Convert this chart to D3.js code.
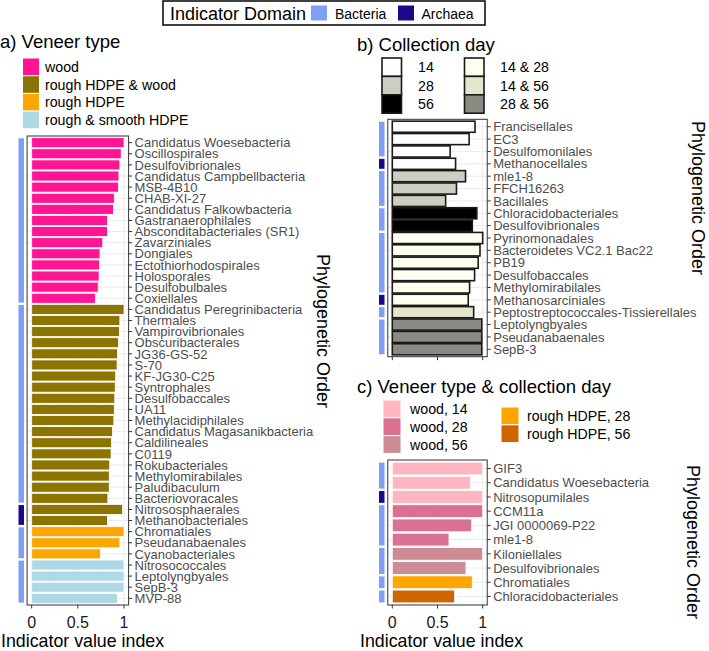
<!DOCTYPE html>
<html>
<head>
<meta charset="utf-8">
<script src="https://cdn.jsdelivr.net/npm/d3@7"></script>
<style>
  body { margin: 0; background: #fff; }
  svg { font-family: 'Liberation Sans', Arial, sans-serif; }
</style>
</head>
<body>
<svg id="chart" width="709" height="651"></svg>
<script>
// domains
const domainNames = ['Bacteria', 'Archaea'];
const domainColors = ['#7f9ff5', '#1a0a8a'];

// panel a: veneer type
const veneerTypes = ['wood', 'rough HDPE & wood', 'rough HDPE', 'rough & smooth HDPE'];
const veneerColors = ['#ff1493', '#8b7500', '#ffa500', '#add8e6'];
const ordersA = [
  'Candidatus Woesebacteria', 'Oscillospirales', 'Desulfovibrionales', 'Candidatus Campbellbacteria',
  'MSB-4B10', 'CHAB-XI-27', 'Candidatus Falkowbacteria', 'Gastranaerophilales',
  'Absconditabacteriales (SR1)', 'Zavarziniales', 'Dongiales', 'Ectothiorhodospirales',
  'Holosporales', 'Desulfobulbales', 'Coxiellales',
  'Candidatus Peregrinibacteria', 'Thermales', 'Vampirovibrionales', 'Obscuribacterales',
  'JG36-GS-52', 'S-70', 'KF-JG30-C25', 'Syntrophales', 'Desulfobaccales', 'UA11',
  'Methylacidiphilales', 'Candidatus Magasanikbacteria', 'Caldilineales', 'C0119',
  'Rokubacteriales', 'Methylomirabilales', 'Paludibaculum', 'Bacteriovoracales',
  'Nitrososphaerales', 'Methanobacteriales',
  'Chromatiales', 'Pseudanabaenales', 'Cyanobacteriales',
  'Nitrosococcales', 'Leptolyngbyales', 'SepB-3', 'MVP-88'
];
const valuesA = [
  1.0, 0.97, 0.955, 0.945, 0.94, 0.895, 0.885, 0.82, 0.82, 0.77, 0.74, 0.735, 0.73, 0.72, 0.69,
  1.0, 0.955, 0.95, 0.94, 0.93, 0.925, 0.91, 0.905, 0.9, 0.895, 0.89, 0.875, 0.865, 0.86,
  0.845, 0.84, 0.84, 0.825, 0.985, 0.82,
  1.0, 0.955, 0.745,
  1.0, 1.0, 1.0, 0.93
];
const groupA = [
  'wood', 'wood', 'wood', 'wood', 'wood', 'wood', 'wood', 'wood', 'wood', 'wood', 'wood', 'wood', 'wood', 'wood', 'wood',
  'rough HDPE & wood', 'rough HDPE & wood', 'rough HDPE & wood', 'rough HDPE & wood', 'rough HDPE & wood',
  'rough HDPE & wood', 'rough HDPE & wood', 'rough HDPE & wood', 'rough HDPE & wood', 'rough HDPE & wood',
  'rough HDPE & wood', 'rough HDPE & wood', 'rough HDPE & wood', 'rough HDPE & wood', 'rough HDPE & wood',
  'rough HDPE & wood', 'rough HDPE & wood', 'rough HDPE & wood', 'rough HDPE & wood', 'rough HDPE & wood',
  'rough HDPE', 'rough HDPE', 'rough HDPE',
  'rough & smooth HDPE', 'rough & smooth HDPE', 'rough & smooth HDPE', 'rough & smooth HDPE'
];
const domainA = ordersA.map(d => (d === 'Nitrososphaerales' || d === 'Methanobacteriales') ? 'Archaea' : 'Bacteria');

// panel b: collection day
const days = ['14', '28', '56', '14 & 28', '14 & 56', '28 & 56'];
const dayColors = ['#ffffff', '#cdcdc1', '#000000', '#fffff0', '#e6e6cb', '#8b8b83'];
const ordersB = [
  'Francisellales', 'EC3', 'Desulfomonilales', 'Methanocellales',
  'mle1-8', 'FFCH16263', 'Bacillales',
  'Chloracidobacteriales', 'Desulfovibrionales',
  'Pyrinomonadales', 'Bacteroidetes VC2.1 Bac22', 'PB19', 'Desulfobaccales', 'Methylomirabilales', 'Methanosarciniales',
  'Peptostreptococcales-Tissierellales',
  'Leptolyngbyales', 'Pseudanabaenales', 'SepB-3'
];
const valuesB = [
  0.915, 0.85, 0.64, 0.70,
  0.81, 0.71, 0.59,
  0.935, 0.885,
  1.0, 0.97, 0.95, 0.91, 0.855, 0.84,
  0.90,
  0.99, 0.99, 0.99
];
const groupB = [
  '14', '14', '14', '14', '28', '28', '28', '56', '56',
  '14 & 28', '14 & 28', '14 & 28', '14 & 28', '14 & 28', '14 & 28',
  '14 & 56', '28 & 56', '28 & 56', '28 & 56'
];
const domainB = ordersB.map(d => (d === 'Methanocellales' || d === 'Methanosarciniales') ? 'Archaea' : 'Bacteria');

// panel c: veneer type & collection day
const combos = ['wood, 14', 'wood, 28', 'wood, 56', 'rough HDPE, 28', 'rough HDPE, 56'];
const comboColors = ['#ffb6c1', '#db7093', '#cd8c95', '#ffa500', '#cd6600'];
const ordersC = [
  'GIF3', 'Candidatus Woesebacteria', 'Nitrosopumilales',
  'CCM11a', 'JGI 0000069-P22', 'mle1-8',
  'Kiloniellales', 'Desulfovibrionales',
  'Chromatiales', 'Chloracidobacteriales'
];
const valuesC = [1.0, 0.867, 1.0, 1.0, 0.878, 0.627, 1.0, 0.815, 0.885, 0.69];
const groupC = [
  'wood, 14', 'wood, 14', 'wood, 14', 'wood, 28', 'wood, 28', 'wood, 28',
  'wood, 56', 'wood, 56', 'rough HDPE, 28', 'rough HDPE, 56'
];
const domainC = ordersC.map(d => d === 'Nitrosopumilales' ? 'Archaea' : 'Bacteria');

const xTicks = [0, 0.5, 1];
const xTickLabels = ['0', '0.5', '1'];

const svg = d3.select('#chart');
const domainColor = d3.scaleOrdinal(domainNames, domainColors);

// top legend
const topLegend = svg.append('g');
topLegend.append('rect').attr('x', 163).attr('y', 1).attr('width', 322).attr('height', 24)
  .attr('fill', '#fff').attr('stroke', '#000').attr('stroke-width', 1.5);
topLegend.append('text').attr('x', 170).attr('y', 19.5).attr('font-size', 18).text('Indicator Domain');
const topKeys = [[311, 335], [398, 421.5]];
domainNames.forEach((d, i) => {
  topLegend.append('rect').attr('x', topKeys[i][0]).attr('y', 5.5).attr('width', 16).attr('height', 15)
    .attr('fill', domainColor(d));
  topLegend.append('text').attr('x', topKeys[i][1]).attr('y', 18.5).attr('font-size', 14).text(d);
});

function drawPanel(cfg) {
  const g = svg.append('g');
  const x = d3.scaleLinear().domain([0, 1]).range(cfg.xRange);
  const y = d3.scalePoint().domain(d3.range(cfg.orders.length)).range([cfg.top, cfg.bottom]).padding(0.6);
  const step = y.step();
  const fill = d3.scaleOrdinal(cfg.groups, cfg.colors);
  const left = cfg.xRange[0] - 0.05 * (cfg.xRange[1] - cfg.xRange[0]);
  const right = cfg.xRange[1] + 0.05 * (cfg.xRange[1] - cfg.xRange[0]);

  // grid
  const minor = [0.25, 0.75];
  g.selectAll('.gminor').data(minor).join('line')
    .attr('x1', d => x(d)).attr('x2', d => x(d)).attr('y1', cfg.top).attr('y2', cfg.bottom)
    .attr('stroke', '#f2f2f2').attr('stroke-width', 0.6);
  g.selectAll('.gmajor').data(xTicks).join('line')
    .attr('x1', d => x(d)).attr('x2', d => x(d)).attr('y1', cfg.top).attr('y2', cfg.bottom)
    .attr('stroke', '#ebebeb').attr('stroke-width', 1);
  g.selectAll('.gy').data(cfg.orders).join('line')
    .attr('x1', left).attr('x2', right).attr('y1', (d, i) => y(i)).attr('y2', (d, i) => y(i))
    .attr('stroke', '#ebebeb').attr('stroke-width', 1);

  // bars
  g.selectAll('.bar').data(cfg.values).join('rect')
    .attr('x', x(0))
    .attr('y', (d, i) => y(i) - 0.45 * step)
    .attr('width', d => x(d) - x(0))
    .attr('height', 0.9 * step)
    .attr('fill', (d, i) => fill(cfg.groupOf[i]))
    .attr('stroke', cfg.barStroke)
    .attr('stroke-width', cfg.barStrokeWidth);

  // panel border
  g.append('rect').attr('x', left).attr('y', cfg.top).attr('width', right - left)
    .attr('height', cfg.bottom - cfg.top).attr('fill', 'none').attr('stroke', '#333').attr('stroke-width', 1);

  // domain strips, one per run of same group and domain
  const runs = [];
  cfg.orders.forEach((d, i) => {
    const key = cfg.groupOf[i] + '|' + cfg.domainOf[i];
    const last = runs[runs.length - 1];
    if (last && last.key === key) last.end = i;
    else runs.push({ key, start: i, end: i, domain: cfg.domainOf[i] });
  });
  g.selectAll('.strip').data(runs).join('rect')
    .attr('x', cfg.stripX).attr('width', 5.5)
    .attr('y', d => y(d.start) - step / 2 + 1.2)
    .attr('height', d => (d.end - d.start + 1) * step - 2.4)
    .attr('fill', d => domainColor(d.domain));

  // y axis on the right
  const yAxis = g.append('g');
  yAxis.selectAll('line').data(cfg.orders).join('line')
    .attr('x1', right).attr('x2', right + 3.5).attr('y1', (d, i) => y(i)).attr('y2', (d, i) => y(i))
    .attr('stroke', '#333').attr('stroke-width', 1);
  yAxis.selectAll('text').data(cfg.orders).join('text')
    .attr('x', right + 6).attr('y', (d, i) => y(i)).attr('dy', '0.36em')
    .attr('font-size', 13).attr('fill', '#4d4d4d').text(d => d);

  // x axis
  const xAxis = g.append('g');
  xAxis.selectAll('line').data(xTicks).join('line')
    .attr('x1', d => x(d)).attr('x2', d => x(d)).attr('y1', cfg.bottom).attr('y2', cfg.bottom + 3.5)
    .attr('stroke', '#333').attr('stroke-width', 1);
  if (cfg.xLabels) {
    xAxis.selectAll('text').data(xTicks).join('text')
      .attr('x', d => x(d)).attr('y', cfg.bottom + 23).attr('text-anchor', 'middle')
      .attr('font-size', 16).attr('fill', '#1a1a1a').text((d, i) => xTickLabels[i]);
    g.append('text').attr('x', cfg.xTitleX).attr('y', cfg.bottom + 42).attr('font-size', 17.8)
      .text('Indicator value index');
  }

  // y title
  g.append('text').attr('transform', `translate(${cfg.yTitleX},${cfg.yTitleY}) rotate(90)`)
    .attr('text-anchor', 'middle').attr('font-size', 18).text('Phylogenetic Order');

  // panel title
  g.append('text').attr('x', cfg.titleX).attr('y', cfg.titleY).attr('font-size', 18.5).text(cfg.title);

  // legend
  cfg.legend.forEach(col => {
    col.items.forEach((item, j) => {
      const ky = col.y + j * col.step;
      g.append('rect').attr('x', col.x).attr('y', ky).attr('width', col.w).attr('height', col.step)
        .attr('fill', fill(item))
        .attr('stroke', cfg.keyStroke).attr('stroke-width', cfg.keyStrokeWidth);
      g.append('text').attr('x', col.labelX).attr('y', ky + col.step / 2).attr('dy', '0.36em')
        .attr('font-size', 14.2).text(item);
    });
  });
}

drawPanel({
  title: 'a) Veneer type', titleX: 0, titleY: 48,
  orders: ordersA, values: valuesA, groupOf: groupA, domainOf: domainA,
  groups: veneerTypes, colors: veneerColors,
  xRange: [31.7, 124], top: 136, bottom: 605,
  barStroke: '#fff', barStrokeWidth: 0.8,
  stripX: 18.5, xLabels: true, xTitleX: 1,
  yTitleX: 317, yTitleY: 331,
  keyStroke: '#fff', keyStrokeWidth: 1,
  legend: [{ items: veneerTypes, x: 22.5, y: 58, step: 17.7, w: 17, labelX: 45 }]
});

drawPanel({
  title: 'b) Collection day', titleX: 357, titleY: 51,
  orders: ordersB, values: valuesB, groupOf: groupB, domainOf: domainB,
  groups: days, colors: dayColors,
  xRange: [392.3, 482.7], top: 119.3, bottom: 356.7,
  barStroke: '#1a1a1a', barStrokeWidth: 1.6,
  stripX: 379, xLabels: false,
  yTitleX: 692, yTitleY: 198,
  keyStroke: '#1a1a1a', keyStrokeWidth: 1.6,
  legend: [
    { items: days.slice(0, 3), x: 382, y: 58, step: 18.4, w: 19.5, labelX: 418 },
    { items: days.slice(3), x: 464.5, y: 58, step: 18.4, w: 19.5, labelX: 500 }
  ]
});

drawPanel({
  title: 'c) Veneer type & collection day', titleX: 357, titleY: 393,
  orders: ordersC, values: valuesC, groupOf: groupC, domainOf: domainC,
  groups: combos, colors: comboColors,
  xRange: [392.3, 482.7], top: 460, bottom: 605,
  barStroke: '#fff', barStrokeWidth: 0.8,
  stripX: 379, xLabels: true, xTitleX: 360,
  yTitleX: 687, yTitleY: 542,
  keyStroke: '#fff', keyStrokeWidth: 1,
  legend: [
    { items: combos.slice(0, 3), x: 383, y: 400, step: 17.8, w: 18, labelX: 410 },
    { items: combos.slice(3), x: 501, y: 407, step: 17.8, w: 18, labelX: 527 }
  ]
});
</script>
</body>
</html>
